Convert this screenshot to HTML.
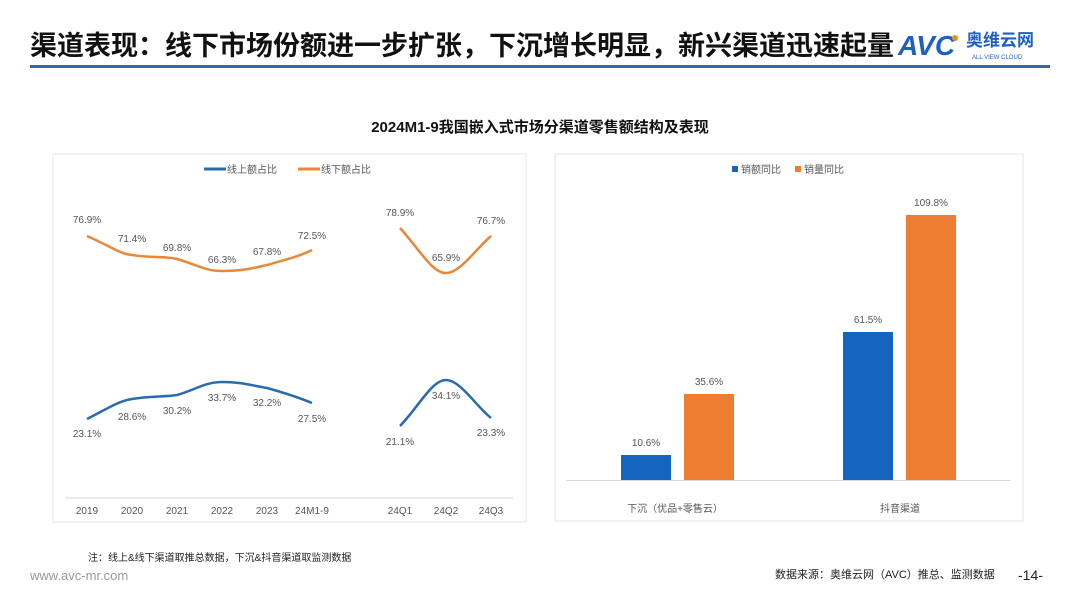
<!DOCTYPE html>
<html><head><meta charset="utf-8"><style>
body{margin:0;width:1080px;height:608px;background:#fff;overflow:hidden;font-family:"Liberation Sans","Noto Sans CJK SC",sans-serif}
</style></head><body>
<svg width="1080" height="608" viewBox="0 0 1080 608" xmlns="http://www.w3.org/2000/svg" font-family="Liberation Sans, Noto Sans CJK SC, sans-serif">
<text x="30" y="55" font-size="27" font-weight="bold" fill="#111">渠道表现：线下市场份额进一步扩张，下沉增长明显，新兴渠道迅速起量</text>
<text x="898" y="55" font-size="28" font-weight="bold" font-style="italic" fill="#1f5fbf">AVC</text>
<circle cx="955" cy="38" r="3" fill="#f08a24"/>
<text x="966" y="46" font-size="17" font-weight="bold" fill="#1f5fbf">奥维云网</text>
<text x="972" y="59" font-size="6" fill="#1f5fbf">ALL VIEW CLOUD</text>
<rect x="30" y="65" width="1020" height="3" fill="#2f6aa6"/>
<text x="540" y="132" font-size="15" font-weight="bold" text-anchor="middle" fill="#111">2024M1-9我国嵌入式市场分渠道零售额结构及表现</text>

<rect x="53" y="154" width="473" height="368" fill="none" stroke="#e6e6e6"/>
<rect x="555" y="154" width="468" height="367" fill="none" stroke="#e6e6e6"/>

<g font-size="10" fill="#555">
<line x1="204" y1="169" x2="226" y2="169" stroke="#2a6bb0" stroke-width="3"/>
<text x="227" y="173">线上额占比</text>
<line x1="298" y1="169" x2="320" y2="169" stroke="#e8893a" stroke-width="3"/>
<text x="321" y="173">线下额占比</text>
<line x1="65" y1="498" x2="513" y2="498" stroke="#d9d9d9"/>
<g text-anchor="middle">
<text x="87" y="514">2019</text><text x="132" y="514">2020</text><text x="177" y="514">2021</text><text x="222" y="514">2022</text><text x="267" y="514">2023</text><text x="312" y="514">24M1-9</text>
<text x="400" y="514">24Q1</text><text x="446" y="514">24Q2</text><text x="491" y="514">24Q3</text>
</g>
<path d="M87,236 C110,246 120,254 132,255 C150,258 165,256 177,259 C195,264 205,271 222,271 C240,271 250,269 267,265 C285,260 300,256 312,250" fill="none" stroke="#e8893a" stroke-width="2.5"/>
<path d="M400,228 C420,250 432,273 446,273 C460,273 475,250 491,236" fill="none" stroke="#e8893a" stroke-width="2.5"/>
<path d="M87,419 C105,410 118,401 132,399 C150,396 165,397 177,395 C195,390 205,382 222,382 C240,382 250,385 267,388 C285,393 300,398 312,403" fill="none" stroke="#2a6bb0" stroke-width="2.5"/>
<path d="M400,426 C420,405 432,380 446,380 C460,380 475,405 491,418" fill="none" stroke="#2a6bb0" stroke-width="2.5"/>
<g text-anchor="middle">
<text x="87" y="223">76.9%</text><text x="132" y="242">71.4%</text><text x="177" y="251">69.8%</text><text x="222" y="263">66.3%</text><text x="267" y="255">67.8%</text><text x="312" y="239">72.5%</text>
<text x="400" y="216">78.9%</text><text x="446" y="261">65.9%</text><text x="491" y="224">76.7%</text>
<text x="87" y="437">23.1%</text><text x="132" y="420">28.6%</text><text x="177" y="414">30.2%</text><text x="222" y="401">33.7%</text><text x="267" y="406">32.2%</text><text x="312" y="422">27.5%</text>
<text x="400" y="445">21.1%</text><text x="446" y="399">34.1%</text><text x="491" y="436">23.3%</text>
</g>

<rect x="732" y="166" width="6" height="6" fill="#1565c0"/>
<text x="741" y="173">销额同比</text>
<rect x="795" y="166" width="6" height="6" fill="#ec7d31"/>
<text x="804" y="173">销量同比</text>
<rect x="621" y="455" width="50" height="25" fill="#1565c0"/>
<rect x="684" y="394" width="50" height="86" fill="#ec7d31"/>
<rect x="843" y="332" width="50" height="148" fill="#1565c0"/>
<rect x="906" y="215" width="50" height="265" fill="#ec7d31"/>
<line x1="566" y1="480.5" x2="1011" y2="480.5" stroke="#d9d9d9"/>
<g text-anchor="middle">
<text x="646" y="446">10.6%</text><text x="709" y="385">35.6%</text><text x="868" y="323">61.5%</text><text x="931" y="206">109.8%</text>
<text x="675" y="512">下沉（优品+零售云）</text><text x="900" y="512">抖音渠道</text>
</g>
</g>
<text x="88" y="561" font-size="10" fill="#222">注：线上&amp;线下渠道取推总数据，下沉&amp;抖音渠道取监测数据</text>
<text x="30" y="580" font-size="13" fill="#999">www.avc-mr.com</text>
<text x="775" y="578" font-size="11" fill="#222">数据来源：奥维云网（AVC）推总、监测数据</text>
<text x="1018" y="580" font-size="14" fill="#222">-14-</text>
</svg>
</body></html>
